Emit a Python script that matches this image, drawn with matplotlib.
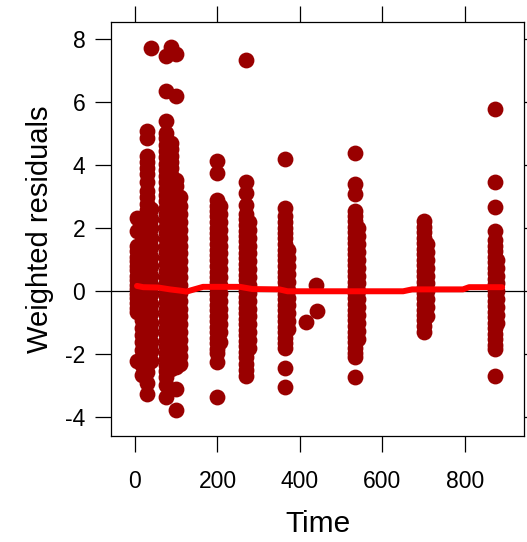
import numpy as np
import matplotlib
matplotlib.use("Agg")
import matplotlib.pyplot as plt

plt.rcParams['font.family'] = ['Liberation Sans', 'DejaVu Sans']
plt.rcParams['axes.unicode_minus'] = False

# residual columns: one time value per column
col_times = [6, 18, 30, 38,
             76, 88, 100, 109,
             198, 206,
             268, 277,
             364, 372,
             534, 541,
             701, 709,
             872, 878]

col_resid = [
    [2.33, 1.91, 1.42, 1.27, 1.1, 0.96, 0.8, 0.66, 0.5, 0.36, 0.2, 0.07, -0.08, -0.22, -0.37, -0.52, -0.66, -2.2],
    [1.45, 1.2, 0.98, 0.75, 0.5, 0.27, 0.03, -0.2, -0.44, -0.68, -0.9, -1.15, -1.4, -1.62, -1.85, -2.1, -2.35, -2.65],
    [5.07, 4.85, 4.28, 4.1, 3.9, 3.72, 3.48, 3.18, 3.0, 2.78, 2.58, 2.38, 2.2, 2.05, 1.88, 1.72, 1.55, 1.38, 1.2,
     1.03, 0.86, 0.7, 0.52, 0.36, 0.18, 0.02, -0.15, -0.32, -0.48, -0.65, -0.82, -1.0, -1.16, -1.33, -1.5, -1.66,
     -1.83, -2.0, -2.17, -2.35, -2.55, -2.9, -3.26],
    [7.71, 2.6, 2.3, 2.0, 1.7, 1.4, 1.1, 0.8, 0.5, 0.2, -0.1, -0.4, -0.7, -1.0, -1.3, -1.6, -1.9, -2.2],
    [7.47, 6.34, 5.39, 5.02, 4.85, 4.65, 4.45, 4.25, 4.05, 3.85, 3.65, 3.45, 3.25, 3.05, 2.85, 2.65, 2.45, 2.25,
     2.05, 1.85, 1.65, 1.45, 1.25, 1.05, 0.85, 0.65, 0.45, 0.25, 0.05, -0.15, -0.35, -0.55, -0.75, -0.95, -1.15,
     -1.35, -1.55, -1.75, -1.95, -2.15, -2.35, -2.52, -2.72, -2.98, -3.36],
    [7.76, 4.7, 4.5, 4.3, 4.1, 3.9, 3.7, 3.5, 3.3, 3.1, 2.9, 2.7, 2.5, 2.3, 2.1, 1.9, 1.7, 1.5, 1.3, 1.1, 0.9,
     0.7, 0.5, 0.3, 0.1, -0.1, -0.3, -0.5, -0.7, -0.9, -1.1, -1.3, -1.5, -1.7, -1.9, -2.1, -2.3, -2.45],
    [7.52, 6.2, 3.54, 3.35, 3.1, 2.85, 2.6, 2.35, 2.1, 1.85, 1.6, 1.35, 1.1, 0.85, 0.6, 0.35, 0.1, -0.15, -0.4,
     -0.65, -0.9, -1.15, -1.4, -1.65, -1.9, -2.15, -2.4, -3.1, -3.76],
    [3.0, 2.7, 2.45, 2.2, 1.95, 1.7, 1.45, 1.2, 0.95, 0.7, 0.45, 0.2, -0.05, -0.3, -0.55, -0.8, -1.05, -1.3,
     -1.55, -1.8, -2.05, -2.3],
    [4.12, 3.75, 2.9, 2.72, 2.55, 2.38, 2.2, 2.02, 1.85, 1.68, 1.5, 1.32, 1.15, 0.98, 0.8, 0.62, 0.45, 0.28, 0.1,
     -0.08, -0.25, -0.42, -0.6, -0.78, -0.95, -1.12, -1.3, -1.48, -1.65, -1.82, -1.95, -2.25, -3.36],
    [2.7, 2.45, 2.2, 1.95, 1.7, 1.45, 1.2, 0.95, 0.7, 0.45, 0.2, -0.05, -0.3, -0.55, -0.8, -1.05, -1.3, -1.6],
    [7.34, 3.46, 3.12, 2.75, 2.45, 2.28, 2.1, 1.92, 1.75, 1.58, 1.4, 1.22, 1.05, 0.88, 0.7, 0.52, 0.35, 0.18, 0.0,
     -0.18, -0.35, -0.52, -0.7, -0.88, -1.05, -1.22, -1.4, -1.58, -1.75, -1.92, -2.1, -2.3, -2.5, -2.68],
    [2.2, 1.95, 1.7, 1.45, 1.2, 0.95, 0.7, 0.45, 0.2, -0.05, -0.3, -0.55, -0.8, -1.05, -1.3, -1.55, -1.8],
    [4.2, 2.65, 2.4, 2.2, 2.02, 1.85, 1.68, 1.5, 1.32, 1.15, 0.98, 0.8, 0.62, 0.45, 0.28, 0.1, -0.08, -0.25, -0.42,
     -0.6, -0.78, -0.95, -1.12, -1.3, -1.48, -1.65, -1.8, -2.42, -3.05],
    [1.3, 1.05, 0.8, 0.55, 0.3, 0.05, -0.2, -0.45, -0.7, -0.95, -1.2],
    [4.37, 3.39, 3.1, 2.56, 2.4, 2.22, 2.05, 1.88, 1.7, 1.52, 1.35, 1.18, 1.0, 0.82, 0.65, 0.48, 0.3, 0.12, -0.05,
     -0.22, -0.4, -0.58, -0.75, -0.92, -1.1, -1.28, -1.45, -1.62, -1.8, -1.95, -2.1, -2.73],
    [2.0, 1.75, 1.5, 1.25, 1.0, 0.75, 0.5, 0.25, 0.0, -0.25, -0.5, -0.75, -1.0, -1.25, -1.5],
    [2.22, 2.05, 1.88, 1.7, 1.52, 1.35, 1.18, 1.0, 0.82, 0.65, 0.48, 0.3, 0.12, -0.05, -0.22, -0.4, -0.58, -0.75,
     -0.92, -1.1, -1.3],
    [1.5, 1.25, 1.0, 0.75, 0.5, 0.25, 0.0, -0.25, -0.5, -0.8],
    [5.79, 3.46, 2.68, 1.91, 1.62, 1.45, 1.28, 1.1, 0.92, 0.75, 0.58, 0.4, 0.22, 0.05, -0.12, -0.3, -0.48, -0.65,
     -0.82, -1.0, -1.18, -1.35, -1.52, -1.7, -1.82, -2.7],
    [1.0, 0.75, 0.5, 0.25, 0.0, -0.25, -0.5, -0.75, -1.0],
]

# a few lone points between the visits
lone_t = [415, 438, 442]
lone_r = [-0.97, 0.19, -0.62]

# smoother through the residuals
smooth_t = [5, 20, 56, 85, 110, 125, 165, 200, 255, 285, 350, 370, 500, 650, 672, 795, 810, 890]
smooth_r = [0.17, 0.13, 0.12, 0.06, 0.02, -0.01, 0.14, 0.14, 0.14, 0.07, 0.06, 0.0, 0.0, 0.0, 0.06, 0.06, 0.13, 0.13]

x_ticks = [0, 200, 400, 600, 800]
y_ticks = [-4, -2, 0, 2, 4, 6, 8]

times = []
resid = []
for t, rs in zip(col_times, col_resid):
    times += [t] * len(rs)
    resid += rs
times += lone_t
resid += lone_r

fig = plt.figure(figsize=(5.27, 5.42), dpi=100)
ax = fig.add_axes([111 / 527, 1 - 436 / 542, 413 / 527, 414 / 542])

ax.axhline(0, color='black', linewidth=0.9, zorder=1)
ax.scatter(times, resid, s=130, color='#990000', linewidths=0, zorder=2)
ax.plot(smooth_t, smooth_r, color='#ff0000', linewidth=4.3, solid_capstyle='round', zorder=3)

ax.set_xlim(-58, 943)
ax.set_ylim(-4.59, 8.54)
ax.set_xticks(x_ticks)
ax.set_yticks(y_ticks)
ax.tick_params(direction='out', length=11.5, width=0.9, labelsize=16.5,
               top=True, right=True, labeltop=False, labelright=False)
ax.tick_params(axis='x', pad=13)
ax.tick_params(axis='y', pad=7)
for s in ax.spines.values():
    s.set_linewidth(0.9)

ax.set_xlabel("Time", fontsize=21.5, labelpad=12)
ax.set_ylabel("Weighted residuals", fontsize=21, labelpad=8)

fig.savefig("out.png", dpi=100)
